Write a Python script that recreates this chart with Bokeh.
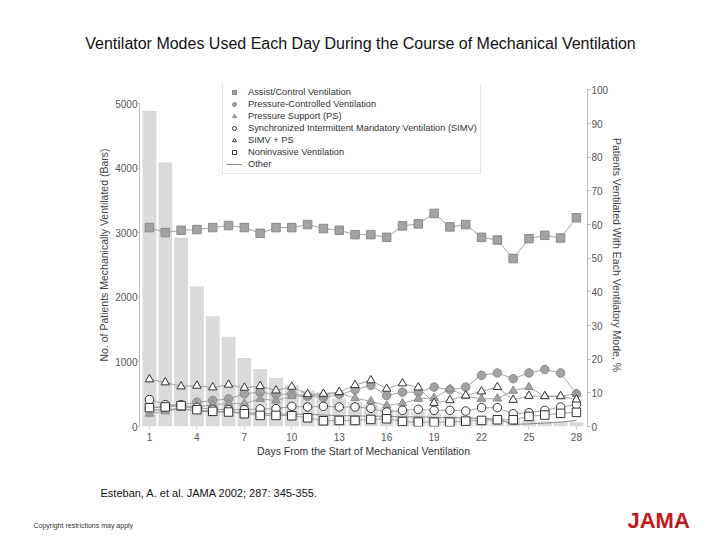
from bokeh.plotting import figure
from bokeh.models import Range1d, LinearAxis, FixedTicker, Label, Legend, LegendItem
from bokeh.layouts import column
from bokeh.embed import file_html
from bokeh.resources import INLINE

# ---------------- data ----------------
days = list(range(1, 29))
patients = [4890, 4090, 2930, 2170, 1710, 1390, 1060, 890, 750, 640, 560, 530, 430, 380,
            340, 280, 250, 230, 200, 170, 155, 140, 125, 110, 95, 80, 75, 65]
assist_control = [59.1, 57.6, 58.3, 58.5, 59.1, 59.7, 59.1, 57.4, 59.1, 59.1, 60.0, 58.8, 58.3, 57.0,
                  57.0, 56.2, 59.6, 60.2, 63.3, 59.3, 60.0, 56.2, 55.4, 49.9, 55.8, 56.8, 56.0, 62.0]
pressure_controlled = [5.5, 6.0, 6.5, 7.2, 7.7, 8.2, 9.7, 10.2, 9.5, 9.7, 9.0, 8.6, 9.5, 10.9,
                       12.2, 9.2, 10.2, 10.2, 11.7, 10.9, 11.7, 15.2, 15.9, 14.2, 15.9, 16.9, 15.9, 9.7]
pressure_support = [3.8, 4.5, 5.5, 5.8, 6.5, 6.8, 6.8, 8.2, 7.7, 9.0, 9.0, 9.5, 10.0, 8.4,
                    7.5, 6.2, 6.9, 8.2, 8.5, 11.2, 9.0, 8.2, 8.3, 10.6, 11.7, 9.0, 9.0, 9.7]
simv = [8.0, 6.5, 6.4, 5.7, 5.1, 5.0, 5.0, 5.2, 5.3, 6.0, 5.8, 6.0, 5.8, 5.8,
        5.4, 4.3, 4.8, 5.1, 4.8, 4.8, 4.6, 5.6, 5.6, 3.8, 4.1, 4.8, 5.8, 6.5]
simv_ps = [14.0, 13.1, 11.9, 12.1, 11.6, 12.4, 11.5, 12.0, 10.7, 11.8, 9.6, 9.7, 10.2, 12.3,
           13.7, 11.2, 12.8, 11.6, 7.0, 7.8, 9.2, 10.4, 11.7, 7.9, 9.1, 9.0, 9.0, 8.0]
noninvasive = [5.6, 5.8, 6.2, 5.0, 4.5, 4.3, 3.8, 3.3, 3.3, 3.2, 2.6, 1.7, 1.8, 1.8,
               2.1, 2.3, 1.5, 1.3, 1.3, 1.3, 1.6, 1.8, 2.0, 2.0, 3.0, 3.4, 3.9, 4.2]
other = [4.8, 5.0, 5.3, 4.6, 4.3, 4.4, 4.1, 3.9, 3.7, 3.7, 3.6, 3.4, 3.2, 3.2,
         3.0, 3.1, 2.8, 2.9, 2.7, 2.6, 2.5, 2.4, 2.2, 0.6, 0.8, 1.0, 1.3, 1.8]
x_ticks = [1, 4, 7, 10, 13, 16, 19, 22, 25, 28]
left_ticks = [0, 1000, 2000, 3000, 4000, 5000]
right_ticks = [0, 10, 20, 30, 40, 50, 60, 70, 80, 90, 100]

TITLE = "Ventilator Modes Used Each Day During the Course of Mechanical Ventilation"
CITATION = "Esteban, A. et al. JAMA 2002; 287: 345-355."
COPYRIGHT = "Copyright restrictions may apply"
LOGO = "JAMA"

FONT = "Liberation Sans"
W = 720


def blank(height, y_top, y_bottom):
    f = figure(width=W, height=height, output_backend="svg", toolbar_location=None,
               x_range=Range1d(0, W), y_range=Range1d(y_bottom, y_top),
               x_axis_type=None, y_axis_type=None, min_border=0, frame_align=False)
    f.outline_line_color = None
    f.background_fill_color = "white"
    f.border_fill_color = "white"
    return f


# header
header = blank(70, 0, 70)
header.add_layout(Label(x=360, y=43, text=TITLE, text_font=FONT, text_font_size="16px",
                        text_color="#111111", text_align="center", text_baseline="middle"))

# main chart
p = figure(width=W, height=400, output_backend="svg", toolbar_location=None,
           x_range=Range1d(0.37, 28.7), y_range=Range1d(0, 5315), frame_align=False,
           min_border_left=139, min_border_right=133, min_border_top=13, min_border_bottom=44)
p.extra_y_ranges = {"pct": Range1d(0, 101.9)}
p.xgrid.visible = False
p.ygrid.visible = False
p.outline_line_color = None
p.background_fill_color = "white"
p.border_fill_color = "white"

p.vbar(x=days, top=patients, width=0.88, fill_color="#dadada", line_color=None)

LINE_C = "#9a9a9a"
FILL_G = "#a3a3a3"
EDGE_G = "#8a8a8a"
series = [
    ("Assist/Control Ventilation", assist_control, "square", FILL_G, EDGE_G),
    ("Pressure-Controlled Ventilation", pressure_controlled, "circle", FILL_G, EDGE_G),
    ("Pressure Support (PS)", pressure_support, "triangle", FILL_G, EDGE_G),
    ("Synchronized Intermittent Mandatory Ventilation (SIMV)", simv, "circle", "white", "#333333"),
    ("SIMV + PS", simv_ps, "triangle", "white", "#333333"),
    ("Noninvasive Ventilation", noninvasive, "square", "white", "#333333"),
]

other_r = p.line(days, other, y_range_name="pct", line_color="#8a8a8a", line_width=1)
for _, vals, _, _, _ in series:
    p.line(days, vals, y_range_name="pct", line_color=LINE_C, line_width=0.9)

items = []
for name, vals, marker, fc, lc in series:
    r = p.scatter(days, vals, y_range_name="pct", marker=marker, size=8.5,
                  fill_color=fc, line_color=lc, line_width=1)
    items.append(LegendItem(label=name, renderers=[r]))
items.append(LegendItem(label="Other", renderers=[other_r]))

legend = Legend(items=items, location=(83, 252), orientation="vertical",
                label_text_font=FONT, label_text_font_size="9.3px", label_text_color="#333333",
                label_height=12, glyph_height=10, glyph_width=16, spacing=0, padding=3,
                label_standoff=6, margin=0, border_line_color="#cccccc", border_line_width=1,
                background_fill_color="white", background_fill_alpha=1)
p.add_layout(legend, "center")

la = p.yaxis[0]
la.ticker = FixedTicker(ticks=left_ticks)
la.bounds = (0, 5000)
la.axis_line_color = "#bbbbbb"
la.major_tick_line_color = "#bbbbbb"
la.major_tick_out = 2
la.major_tick_in = 0
la.minor_tick_line_color = None
la.major_label_standoff = 0
la.major_label_text_font = FONT
la.major_label_text_font_size = "10px"
la.major_label_text_color = "#555555"
la.axis_label = "No. of Patients Mechanically Ventilated (Bars)"
la.axis_label_text_font = FONT
la.axis_label_text_font_size = "10.5px"
la.axis_label_text_font_style = "normal"
la.axis_label_text_color = "#444444"
la.axis_label_standoff = 2

ra = LinearAxis(y_range_name="pct", ticker=FixedTicker(ticks=right_ticks), bounds=(0, 100))
ra.axis_line_color = "#bbbbbb"
ra.major_tick_line_color = "#bbbbbb"
ra.major_tick_out = 3
ra.major_tick_in = 0
ra.minor_tick_line_color = None
ra.major_label_standoff = 1
ra.major_label_text_font = FONT
ra.major_label_text_font_size = "10px"
ra.major_label_text_color = "#555555"
ra.axis_label = "Patients Ventilated With Each Ventilatory Mode, %"
ra.axis_label_text_font = FONT
ra.axis_label_text_font_size = "10.5px"
ra.axis_label_text_font_style = "normal"
ra.axis_label_text_color = "#444444"
ra.axis_label_standoff = 0
p.add_layout(ra, "right")

xa = p.xaxis[0]
xa.ticker = FixedTicker(ticks=x_ticks)
xa.axis_line_color = None
xa.major_tick_line_color = "#cccccc"
xa.major_tick_out = 3
xa.major_tick_in = 0
xa.minor_tick_line_color = None
xa.major_label_standoff = 3
xa.major_label_text_font = FONT
xa.major_label_text_font_size = "10px"
xa.major_label_text_color = "#555555"
xa.axis_label = "Days From the Start of Mechanical Ventilation"
xa.axis_label_text_font = FONT
xa.axis_label_text_font_size = "10.5px"
xa.axis_label_text_font_style = "normal"
xa.axis_label_text_color = "#333333"
xa.axis_label_standoff = 1

# footer
footer = blank(70, 470, 540)
footer.add_layout(Label(x=100, y=492, text=CITATION, text_font=FONT, text_font_size="11px",
                        text_color="#111111", text_align="left", text_baseline="middle"))
footer.add_layout(Label(x=33, y=525, text=COPYRIGHT, text_font=FONT, text_font_size="7px",
                        text_color="#333333", text_align="left", text_baseline="middle"))
footer.add_layout(Label(x=627, y=520, text=LOGO, text_font=FONT,
                        text_font_size="22px", text_font_style="bold", text_color="#c4161c",
                        text_align="left", text_baseline="middle"))

page = column(header, p, footer, spacing=0)
open("out.html", "w").write(file_html(page, INLINE))
